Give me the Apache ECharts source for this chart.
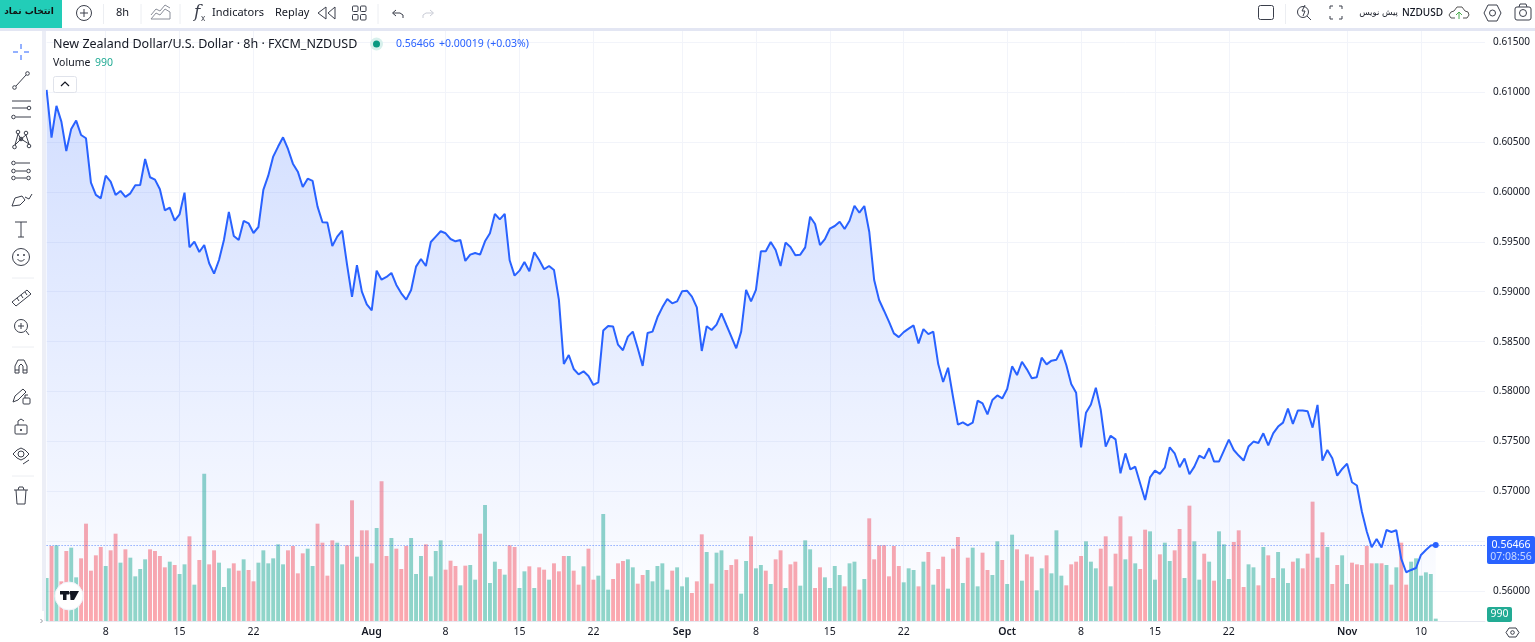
<!DOCTYPE html>
<html>
<head>
<meta charset="utf-8">
<style>
html,body{margin:0;padding:0;background:#fff;overflow:hidden}
#chart{width:1535px;height:642px}
</style>
<script src="https://cdn.jsdelivr.net/npm/echarts@6/dist/echarts.min.js"></script>
</head>
<body>
<div id="chart"></div>
<script>
// NZDUSD 8h closes
const prices = [
  0.6102,0.60543,0.6086,0.60703,0.60409,0.6063,0.60713,0.60569,0.60536,0.60092,
  0.59969,0.59935,0.60162,0.60102,0.59969,0.60009,0.59949,0.59985,0.60066,0.60069,
  0.60329,0.60146,0.60122,0.60026,0.59815,0.59842,0.59712,0.59775,0.59992,0.59445,
  0.59502,0.59398,0.59468,0.59285,0.59181,0.59318,0.59518,0.59799,0.59558,0.59518,
  0.59709,0.59685,0.59588,0.59648,0.60019,0.60162,0.60353,0.60453,0.60546,0.60429,
  0.60282,0.60202,0.60049,0.60132,0.60109,0.59852,0.59695,0.59692,0.59458,0.59552,
  0.59612,0.59268,0.58948,0.59265,0.59001,0.58874,0.58814,0.59211,0.59121,0.59148,
  0.59188,0.59068,0.58984,0.58921,0.59018,0.59251,0.59328,0.59258,0.59498,0.59552,
  0.59605,0.59585,0.59528,0.59505,0.59518,0.59308,0.59371,0.59388,0.59371,0.59505,
  0.59585,0.59779,0.59725,0.59779,0.59315,0.59161,0.59211,0.59298,0.59205,0.59395,
  0.59318,0.59225,0.59258,0.59218,0.58918,0.58277,0.58367,0.58227,0.58173,0.58203,
  0.58157,0.58067,0.58093,0.58611,0.58657,0.58651,0.5847,0.58414,0.58551,0.58601,
  0.58434,0.58257,0.58587,0.58601,0.58744,0.58844,0.58928,0.58884,0.58904,0.59004,
  0.59011,0.58951,0.58844,0.58407,0.58654,0.58617,0.58671,0.58784,0.58667,0.58551,
  0.58434,0.58601,0.59018,0.58904,0.59018,0.59405,0.59405,0.59498,0.59418,0.59258,
  0.59492,0.59448,0.59365,0.59371,0.59444,0.59751,0.59678,0.59467,0.59527,0.59631,
  0.59658,0.59701,0.59628,0.59711,0.59861,0.59791,0.59858,0.59601,0.59117,0.58917,
  0.5881,0.587,0.58583,0.58546,0.58596,0.5863,0.58663,0.58483,0.58626,0.58576,
  0.586,0.58276,0.58096,0.58239,0.57949,0.57669,0.57692,0.57662,0.57689,0.57909,
  0.57882,0.57772,0.57916,0.57962,0.57932,0.58026,0.58253,0.58166,0.58299,0.58223,
  0.58133,0.58143,0.5834,0.58273,0.5831,0.5832,0.58416,0.58266,0.58076,0.57989,
  0.57442,0.57789,0.57872,0.58039,0.57816,0.57449,0.57559,0.57522,0.57182,0.57382,
  0.57222,0.57248,0.57081,0.56915,0.57141,0.57209,0.57176,0.57239,0.57443,0.57383,
  0.57243,0.5733,0.57173,0.57249,0.5736,0.57333,0.57433,0.573,0.573,0.5741,
  0.5752,0.57416,0.5736,0.5731,0.5745,0.575,0.57486,0.57583,0.57463,0.57583,
  0.5765,0.5769,0.5783,0.57677,0.5781,0.5781,0.57803,0.5764,0.57867,0.5731,
  0.57416,0.57333,0.57159,0.57226,0.57279,0.57093,0.5706,0.568,0.566,0.56442,
  0.56525,0.56439,0.56615,0.56595,0.56612,0.56325,0.56192,0.56215,0.56235,0.56365,
  0.56415,0.56459,0.56466
];
const volumes = [
  18060,31500,31780,16660,29400,30800,18340,26320,40880,21140,
  27580,31080,23100,29680,36680,24500,30100,26600,18760,21840,
  25900,30100,29400,27300,22540,24920,23520,19740,23800,35560,
  15260,25620,61880,23800,29680,24500,14280,22120,24220,21140,
  25900,21420,16660,24500,29680,24220,26320,32200,23800,29680,
  31500,20020,28420,30380,23100,40880,32900,19040,33880,32900,
  23800,31780,50680,27020,38080,38080,24220,39060,58660,27300,
  34860,30380,21840,31500,34860,19740,27300,32200,18760,29400,
  33880,21560,25340,23100,14980,23240,23520,17360,36680,48720,
  15960,24920,21840,19460,31780,31080,13860,20860,22960,13860,
  22540,21560,17360,24220,20860,27300,27300,21140,15260,22960,
  30380,17360,19040,44940,13160,17640,24220,25200,25900,22540,
  15680,19320,21420,16660,23100,24220,13160,21140,22540,14560,
  18340,11760,16660,36400,28980,15680,28700,29680,21420,23520,
  25900,11480,25200,35560,22120,23520,21140,15540,25900,29680,
  13860,23800,24920,14840,33880,30100,13860,22540,18340,13860,
  23100,19320,14560,24220,24920,13160,17640,43120,25900,31780,
  31780,18760,31500,23100,16240,22120,21420,14560,24920,28980,
  15260,21840,27020,13580,30380,35280,15960,26600,30800,14560,
  28700,21420,19320,33460,25620,15540,36260,30100,16940,28000,
  27020,12880,22120,27580,20020,38080,19040,14980,23800,24920,
  27300,33460,24920,22120,30380,35560,14560,28280,43960,25900,
  35560,24220,21840,38360,37660,17360,28000,32900,25200,29680,
  38640,18060,48440,33460,17360,28280,24920,16940,37660,32200,
  17640,33180,38080,14280,23800,22540,14980,31080,27580,18060,
  28980,22120,15960,24920,26320,22120,28280,50120,26600,37240,
  31080,15540,23520,27580,15540,24500,23800,23520,31500,24220,
  24220,24220,23520,15260,22540,32900,15260,24920,26320,19040,
  20440,19740,990
];
// g = up bar, r = down bar
const volumeSide = (
  'grgrrggrrr'+'rrgrrgrggg'+'grrrrgrggr'+'grgrrgggrr'+'grrggggggr'+'rrrggrrrrg'+
  'grrgrrrgrr'+'grrrgggrgg'+'grrrgrggrg'+'ggrgrrggrg'+'rrgrrrgrrg'+'rrgggrrrgg'+
  'rrgggggrgg'+'grrrgrggrr'+'rggrggrgrr'+'grrgggrrgg'+'ggrggrgrrr'+'rrrrgggrgr'+
  'grrgrrgrgg'+'rrggrggrgr'+'rggrgggrrr'+'rgggrrgrrg'+'rgrrggrggr'+'rgrggrgrgg'+
  'grrrggrgrr'+'gggrgrrrgr'+'grrggrrrrr'+'grgrgrrggg'+'ggg'
).split('');
const tickIndex = [12,27,42,66,81,96,111,129,144,159,174,195,210,225,240,264,279];
const tickText = ['8','15','22','Aug','8','15','22','Sep','8','15','22','Oct','8','15','22','Nov','10'];
const monthTicks = ['Aug','Sep','Oct','Nov'];
const priceTicks = [0.56,0.565,0.57,0.575,0.58,0.585,0.59,0.595,0.6,0.605,0.61,0.615];
const lastPrice = 0.56466;

const blankBars = 10; // empty room right of the last bar
const categories = [];
for (let i = 0; i < prices.length + blankBars; i++) {
  const k = tickIndex.indexOf(i);
  categories.push(k >= 0 ? tickText[k] : '');
}

const UI = '"Noto Sans","Open Sans",sans-serif';
const ink = '#131722', icon = '#3a3e4a', faint = '#c9ccd6', blue = '#2962ff';

// small helpers for the toolbar icons
const Z = 100;
function ln(pts, color, w) {
  return {type:'polyline', z:Z, silent:true, shape:{points:pts}, style:{fill:'none', stroke:color||icon, lineWidth:w||1}};
}
function ci(x, y, r, color, fill, w) {
  return {type:'circle', z:Z, silent:true, shape:{cx:x, cy:y, r:r}, style:{fill:fill||'none', stroke:color||icon, lineWidth:w||1}};
}
function re(x, y, w, h, fill, stroke, r) {
  return {type:'rect', z:Z, silent:true, shape:{x:x, y:y, width:w, height:h, r:r||0},
    style:{fill:fill||'none', stroke:stroke||'none', lineWidth:1}};
}
function tx(x, y, s, size, color, opt) {
  opt = opt || {};
  return {type:'text', z:Z+1, silent:true, x:x, y:y, style:{text:s, fontSize:size, fill:color||ink,
    fontFamily:opt.font||UI, fontWeight:opt.weight||'normal', fontStyle:opt.style||'normal',
    align:opt.align||'left', verticalAlign:'middle'}};
}

const chrome = [
  // frame
  re(0,0,1535,28,'#fff'),
  re(0,28,1535,3,'#e3e6f3'),
  re(0,31,42,611,'#fff'),
  re(42,31,4,590,'#eceef6'),
  // top left bar
  re(0,0,62,28,'#22cdb8'),
  tx(29,12,'انتخاب نماد',9,'#111',{align:'center',font:'"DejaVu Sans"',weight:'bold'}),
  ci(84,13,7.5,icon),
  ln([[80,13],[88,13]]), ln([[84,9],[84,17]]),
  ln([[103.5,4],[103.5,24]],'#eceef2'), ln([[141,4],[141,24]],'#eceef2'), ln([[180,4],[180,24]],'#eceef2'), ln([[378,4],[378,24]],'#eceef2'),
  tx(116,13,'8h',11,ink),
  ln([[151,19],[156,13],[160,15],[165,9],[170,12],[170,19],[151,19]],'#8a8e99'),
  ln([[151,15],[156,9],[160,11],[165,5],[170,8]],'#8a8e99'),
  tx(194,13,'f',17,icon,{font:'"DejaVu Serif"',style:'italic'}),
  tx(201,19,'x',8,icon),
  tx(212,13,'Indicators',11,ink),
  tx(275,13,'Replay',11,ink),
  ln([[326,7],[318,13],[326,19],[326,7]]),
  ln([[335,7],[328,13],[335,19],[335,7]]),
  re(352.5,6,5.5,5.5,null,icon,1), re(360.5,6,5.5,5.5,null,icon,1),
  re(352.5,14.5,5.5,5.5,null,icon,1), re(360.5,14.5,5.5,5.5,null,icon,1),
  ln([[396,10],[392.5,13],[396,16]]), ln([[393,13],[400,13],[403,15],[403,18]]),
  ln([[430,10],[433.5,13],[430,16]],faint), ln([[433,13],[426,13],[423,15],[423,18]],faint),
  // top right bar
  re(1258.5,5.5,15,14,null,icon,2),
  ln([[1285.5,4],[1285.5,24]],'#eceef2'),
  ci(1303,12,5.5,icon), ln([[1307,16],[1311,20]]), ln([[1305,5],[1302,11],[1305,11],[1303,16]]),
  ln([[1330,9],[1330,6],[1333,6]]), ln([[1339,6],[1342,6],[1342,9]]),
  ln([[1330,16],[1330,19],[1333,19]]), ln([[1339,19],[1342,19],[1342,16]]),
  tx(1398,13,'پیش نویس',8.6,ink,{align:'right',font:'"DejaVu Sans"'}),
  tx(1402,13,'NZDUSD',10,ink,{weight:500}),
  ln([[1455,18],[1451,18],[1449,15],[1451,12],[1454,11],[1457,7],[1462,7],[1465,11],[1468,12],[1469,15],[1467,18],[1463,18]],'#555'),
  ln([[1459,19],[1459,12]],'#4caf50'), ln([[1456,15],[1459,12],[1462,15]],'#4caf50'),
  ln([[1488,5],[1497,5],[1501,13],[1497,21],[1488,21],[1484,13],[1488,5]]), ci(1492.5,13,3,icon),
  re(1515,7,16,13,null,icon,2), ln([[1519,7],[1520,4],[1526,4],[1527,7]]), ci(1523,13,3.5,icon),
  // left tools
  ln([[21,44],[21,49]],blue), ln([[21,55],[21,60]],blue), ln([[13,52],[18,52]],blue), ln([[24,52],[29,52]],blue),
  ci(14.5,87.5,1.8), ci(27.5,73.5,1.8), ln([[16,86],[26,75]]),
  ln([[12,101],[31,101]]), ln([[12,108],[27,108]]), ci(29,108,1.8), ci(13.5,117,1.8), ln([[16,117],[31,117]]),
  ci(14.5,147,1.8), ci(18,132,1.8), ci(26,133,1.8), ci(29,146,1.8), ci(21,139,1.8),
  ln([[15,145],[18,134],[21,139],[26,135],[29,144],[21,139],[15,145]]),
  ci(13.5,163,1.8), ci(13.5,171,1.8), ci(13.5,178,1.8), ci(28.5,171,1.8), ci(28.5,178,1.8),
  ln([[16,163],[30,163]]), ln([[16,171],[26,171]]), ln([[16,178],[26,178]]),
  ln([[12,206],[15,198],[22,196],[25,200],[20,205],[12,206]]), ln([[25,197],[29,199],[32,194]]),
  ln([[15,222],[27,222]]), ln([[21,222],[21,237]]), ln([[18,237],[24,237]]),
  ci(21,257,8.5), ci(18,255,0.6,icon,icon), ci(24,255,0.6,icon,icon), ln([[17.5,259],[19.5,261],[22.5,261],[24.5,259]]),
  ln([[12,278],[34,278]],'#eceef2'),
  ln([[12,302],[27,290],[31,294],[16,306],[12,302]]), ln([[17,298],[19,301]]), ln([[21,295],[23,298]]), ln([[25,292],[27,295]]),
  ci(21,326,6.5), ln([[18,326],[24,326]]), ln([[21,323],[21,329]]), ln([[26,331],[29,335]]),
  ln([[12,347],[34,347]],'#eceef2'),
  ln([[15,373],[15,366],[18,360],[24,360],[27,366],[27,373],[23,373],[23,366],[21,364],[19,366],[19,373],[15,373]]),
  ln([[15,370],[19,370]]), ln([[23,370],[27,370]]),
  ln([[13,402],[15,396],[23,389],[26,392],[18,400],[13,402]]), re(23,398,7,6,null,icon,1), ln([[25,398],[25,395],[28,395]]),
  re(15,425,12,9,null,icon,1), ln([[18,425],[18,421],[21,419],[24,421]]), ci(21,430,0.7,icon,icon),
  ci(21,454,3), ln([[13,454],[17,450],[21,448],[25,450],[29,454],[25,458],[21,460],[17,458],[13,454]]), ln([[23,464],[29,460]]),
  ln([[12,476],[34,476]],'#eceef2'),
  ln([[14,490],[28,490]]), ln([[16,490],[17,504],[25,504],[26,490]]), ln([[18,490],[19,487],[23,487],[24,490]]),
  // sidebar handle
  re(39,611,5,20,'#fff'), ln([[40.5,619],[42.5,621],[40.5,623]],'#9598a1'),
  // legend
  tx(53,44.5,'New Zealand Dollar/U.S. Dollar · 8h · FXCM_NZDUSD',12.5,ink),
  ci(376.5,44,6.5,'none','#d7f0ec'), ci(376.5,44,3.5,'none','#089981'),
  tx(396,44.5,'0.56466',10.5,blue), tx(439,44.5,'+0.00019',10.5,blue), tx(487,44.5,'(+0.03%)',10.5,blue),
  tx(53,63.5,'Volume',10.5,ink), tx(95,63.5,'990',10.5,'#22ab94'),
  re(53.5,76.5,23,16,'#fff','#e0e3eb',2), ln([[61,86],[65,82],[69,86]],ink,1.2),
  // logo
  ci(69,596,14,'#f0f3fa','#fff'),
  re(60,591,9,3.5,'#131722'), re(63,591,3.5,9,'#131722'),
  {type:'polygon', z:Z, silent:true, shape:{points:[[70,591],[79,591],[74,600],[70.5,600]]}, style:{fill:'#131722'}},
  ci(71,593,1.8,'none','#131722'),
  // price and volume tags
  re(1487,536,48,28,blue,null,2),
  tx(1511,545.5,'0.56466',10.5,'#fff',{align:'center'}),
  tx(1511,557.5,'07:08:56',10.5,'#c9d8ff',{align:'center'}),
  re(1487,607,25,15,'#22ab94',null,2),
  tx(1499.5,614.5,'990',10.5,'#fff',{align:'center'}),
  // scale settings
  ln([[1509,628],[1516,628],[1519,632.5],[1516,637],[1509,637],[1506,632.5],[1509,628]]), ci(1512.5,632.5,1.8)
];

const chart = echarts.init(document.getElementById('chart'));
chart.setOption({
  animation: false,
  backgroundColor: '#fff',
  grid: {left: 46.6, right: 50, top: 30, bottom: 21, containLabel: false},
  xAxis: {
    type: 'category',
    data: categories,
    boundaryGap: false,
    axisTick: {show: false},
    axisLine: {show: true, lineStyle: {color: '#e6e8f0'}},
    splitLine: {show: true, interval: (i) => tickIndex.indexOf(i) >= 0, lineStyle: {color: '#f2f4fa', width: 1}},
    axisLabel: {
      interval: 0,
      hideOverlap: false,
      margin: 6,
      fontFamily: UI,
      fontSize: 10.5,
      color: ink,
      formatter: (v) => monthTicks.indexOf(v) >= 0 ? '{m|' + v + '}' : v,
      rich: {m: {fontWeight: 600, fontSize: 10.5, fontFamily: UI, color: ink}}
    }
  },
  yAxis: [
    {
      type: 'value',
      position: 'right',
      min: 0.55704,
      max: 0.6162,
      axisLine: {show: false},
      axisTick: {show: false, customValues: priceTicks},
      splitLine: {show: true, lineStyle: {color: '#f2f4fa', width: 1}},
      axisLabel: {
        customValues: priceTicks,
        margin: 8,
        fontFamily: UI,
        fontSize: 10,
        color: ink,
        formatter: (v) => v.toFixed(5)
      }
    },
    {type: 'value', min: 0, max: 248220, show: false}
  ],
  series: [
    {
      name: 'Volume',
      type: 'bar',
      yAxisIndex: 1,
      barWidth: 3.9,
      z: 1,
      data: volumes,
      itemStyle: {color: (p) => volumeSide[p.dataIndex] === 'g' ? 'rgba(34,171,148,0.5)' : 'rgba(247,82,95,0.5)'}
    },
    {
      name: 'NZDUSD',
      type: 'line',
      z: 3,
      data: prices,
      showAllSymbol: true,
      symbol: (v, p) => p.dataIndex === prices.length - 1 ? 'circle' : 'none',
      symbolSize: 6,
      itemStyle: {color: blue},
      lineStyle: {color: blue, width: 2},
      areaStyle: {
        origin: 'start',
        color: new echarts.graphic.LinearGradient(0, 0, 0, 1, [
          {offset: 0, color: 'rgba(41,98,255,0.30)'},
          {offset: 0.4, color: 'rgba(41,98,255,0.19)'},
          {offset: 0.8, color: 'rgba(41,98,255,0.07)'},
          {offset: 1, color: 'rgba(41,98,255,0.0)'}
        ])
      },
      markLine: {
        silent: true,
        symbol: 'none',
        animation: false,
        precision: 5,
        label: {show: false},
        lineStyle: {color: blue, type: [1, 2], width: 1, opacity: 0.75},
        data: [{yAxis: lastPrice}]
      }
    }
  ],
  graphic: {elements: chrome}
});
</script>
</body>
</html>
